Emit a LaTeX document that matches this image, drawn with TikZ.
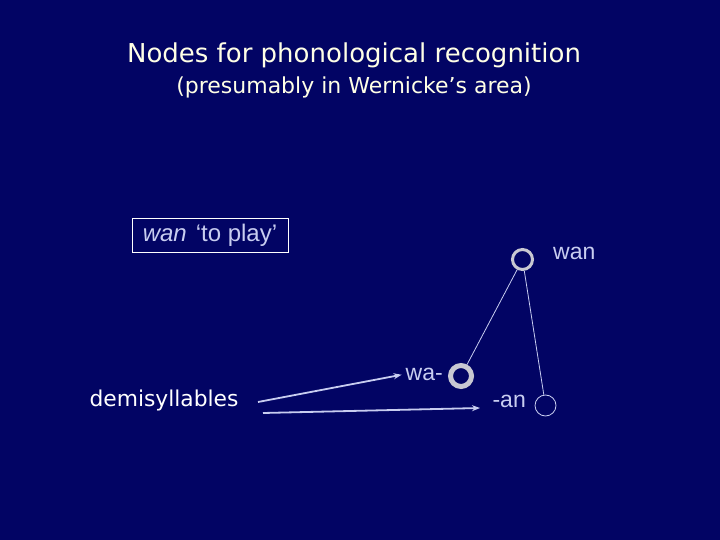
\documentclass[tikz,border=0pt]{standalone}
\usepackage{fontspec}
\setmainfont{Liberation Sans}
\newfontfamily\comic{DejaVu Sans}
\usetikzlibrary{arrows.meta}
\definecolor{bg}{RGB}{2,4,100}
\definecolor{cream}{RGB}{255,255,230}
\definecolor{lav}{RGB}{200,205,240}
\definecolor{ring}{RGB}{200,200,210}
\begin{document}
\begin{tikzpicture}[x=1pt,y=-1pt,
  ttl/.style={text=cream,font=\comic\fontsize{26}{28}\selectfont,inner sep=0},
  sub/.style={text=cream,font=\comic\fontsize{22}{24}\selectfont,inner sep=0},
  lbl/.style={text=lav,font=\fontsize{23}{26}\selectfont,inner sep=0},
  cnode/.style={circle,draw=ring,minimum size=20pt,inner sep=0},
  conn/.style={draw=lav,line width=0.8pt},
  arr/.style={draw=lav,line width=1.8pt,-{Stealth[length=8pt,width=6pt]}}]
\fill[bg] (0,0) rectangle (720,540);
\useasboundingbox (0,0) rectangle (720,540);
\node[ttl] (title) at (354,55) {Nodes for phonological recognition};
\node[sub] (subtitle) at (354,87) {(presumably in Wernicke’s area)};
\node[draw=white,line width=0.8pt,text=lav,font=\fontsize{24}{26}\selectfont,
  minimum width=156pt,minimum height=34pt,inner sep=0] (box) at (210,235) {\textit{wan}\hspace{9pt}‘to play’};
\node[cnode,line width=3pt] (wan) at (522.5,259.5) {};
\node[cnode,line width=5pt,minimum size=21pt] (wa) at (461,376) {};
\node[cnode,draw=lav,line width=0.8pt,minimum size=21pt] (an) at (545.5,405.5) {};
\node[lbl,anchor=west] (wanl) at (553,253) {wan};
\node[lbl,anchor=east] (wal) at (443,374) {wa-};
\node[lbl,anchor=east] (anl) at (526,401) {-an};
\node[text=white,font=\comic\fontsize{21.8}{24}\selectfont,inner sep=0] (demi) at (164,400) {demisyllables};
\coordinate (s1) at (258,402);
\coordinate (s2) at (263,413);
\coordinate (e2) at (480,408);
\draw[conn] (wan) -- (wa);
\draw[conn] (wan) -- (an);
\draw[arr,shorten >=4pt] (s1) -- (wal.west);
\draw[arr] (s2) -- (e2);
\end{tikzpicture}
\end{document}
